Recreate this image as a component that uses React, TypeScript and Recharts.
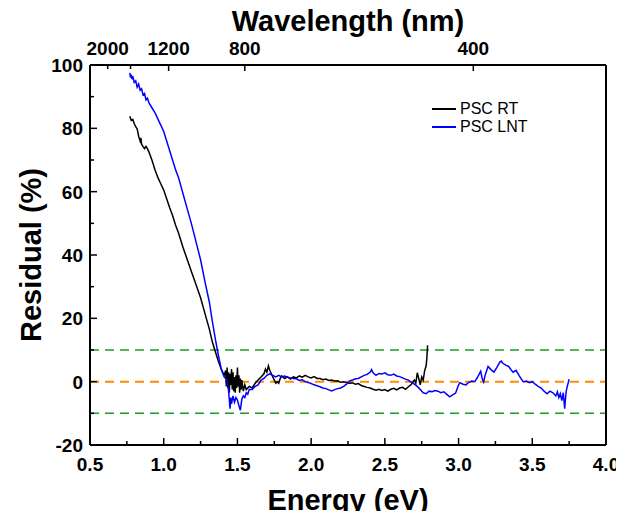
import React from "react";
import { LineChart, Line, XAxis, YAxis, ReferenceLine, Label } from "recharts";

const rtEnergy = [
  0.77, 0.78, 0.79, 0.8, 0.81, 0.82, 0.83, 0.84, 0.845, 0.85, 0.86, 0.87, 0.88, 0.89, 0.9, 0.92, 0.94, 0.96, 0.98, 1.0,
  1.02, 1.04, 1.06, 1.08, 1.1, 1.13, 1.16, 1.19, 1.22, 1.25, 1.28, 1.31, 1.33, 1.35, 1.37, 1.39, 1.41, 1.42, 1.425, 1.43,
  1.435, 1.44, 1.445, 1.45, 1.455, 1.46, 1.465, 1.47, 1.475, 1.48, 1.485, 1.49, 1.495, 1.5, 1.505, 1.51, 1.515, 1.52, 1.525, 1.53,
  1.54, 1.55, 1.56, 1.58, 1.6, 1.62, 1.64, 1.66, 1.68, 1.69, 1.7, 1.71, 1.72, 1.73, 1.74, 1.75, 1.76, 1.77, 1.78, 1.79,
  1.8, 1.82, 1.84, 1.86, 1.88, 1.9, 1.92, 1.94, 1.96, 1.98, 2.0, 2.02, 2.04, 2.06, 2.08, 2.1, 2.12, 2.14, 2.16, 2.18,
  2.2, 2.22, 2.24, 2.26, 2.28, 2.3, 2.32, 2.34, 2.36, 2.38, 2.4, 2.42, 2.44, 2.46, 2.48, 2.5, 2.52, 2.54, 2.56, 2.58,
  2.6, 2.62, 2.64, 2.66, 2.68, 2.7, 2.71, 2.72, 2.73, 2.74, 2.75, 2.76, 2.77, 2.78, 2.785, 2.79,
];
const rtResidual = [
  83.8, 82.5, 82.8, 81.5, 80.5, 79.8, 77.5, 76.0, 77.0, 75.0, 74.2, 73.6, 74.3, 73.5, 72.5, 70.0, 67.0, 64.5, 62.5, 60.5,
  57.8, 55.0, 52.5, 49.5, 47.0, 42.5, 38.5, 34.5, 30.5, 26.5, 21.5, 16.5, 12.5, 9.5, 6.5, 4.0, 2.0, 3.5, -1.5, 4.5,
  -2.0, 3.0, -3.5, 2.5, -1.0, 4.0, -2.5, 3.0, -3.0, 1.5, -3.5, 2.0, -2.0, 4.5, -1.5, 2.0, -3.5, 1.0, -2.5, 0.5,
  -3.0, -1.0, -2.5, -1.5, -2.0, -0.5, 0.5, 1.5, 2.5, 4.0, 3.0, 5.0, 3.5, 2.5, 1.5, 0.5, -0.5, 0.0, -0.5, 1.0,
  1.8, 1.0, 1.5, 0.8, 1.5, 1.2, 1.8, 1.4, 2.0, 1.5, 1.2, 1.6, 1.0, 1.0, 0.6, 0.8, 0.4, 0.5, 0.2, 0.3,
  -0.2, 0.0, -0.3, -0.5, -0.4, -0.8, -0.6, -1.2, -1.5, -1.8, -2.0, -2.4, -2.7, -2.4, -2.8, -2.5, -3.0, -2.4, -2.1, -2.6,
  -2.0, -1.8, -2.4, -1.6, -0.8, 0.5, -0.5, 2.8, 1.0, -1.0, 1.5, 0.5, 3.5, 5.0, 7.5, 11.5,
];

const lntEnergy = [
  0.77, 0.775, 0.78, 0.785, 0.79, 0.8, 0.81, 0.82, 0.83, 0.84, 0.85, 0.86, 0.87, 0.88, 0.89, 0.9, 0.92, 0.94, 0.96, 0.98,
  1.0, 1.02, 1.04, 1.06, 1.08, 1.1, 1.13, 1.16, 1.19, 1.22, 1.25, 1.28, 1.31, 1.33, 1.35, 1.37, 1.39, 1.41, 1.43, 1.44,
  1.45, 1.455, 1.46, 1.47, 1.48, 1.49, 1.5, 1.51, 1.52, 1.53, 1.54, 1.55, 1.56, 1.57, 1.58, 1.6, 1.62, 1.64, 1.66, 1.68,
  1.7, 1.72, 1.74, 1.76, 1.78, 1.8, 1.82, 1.84, 1.86, 1.88, 1.9, 1.92, 1.94, 1.96, 1.98, 2.0, 2.02, 2.04, 2.06, 2.08,
  2.1, 2.12, 2.14, 2.16, 2.18, 2.2, 2.22, 2.24, 2.26, 2.28, 2.3, 2.32, 2.34, 2.36, 2.38, 2.4, 2.41, 2.42, 2.44, 2.46,
  2.48, 2.5, 2.52, 2.54, 2.56, 2.58, 2.6, 2.62, 2.64, 2.66, 2.68, 2.7, 2.72, 2.74, 2.76, 2.78, 2.8, 2.82, 2.84, 2.86,
  2.88, 2.9, 2.92, 2.94, 2.96, 2.98, 3.0, 3.01, 3.03, 3.05, 3.07, 3.09, 3.11, 3.13, 3.15, 3.16, 3.17, 3.18, 3.2, 3.22,
  3.24, 3.26, 3.28, 3.29, 3.3, 3.32, 3.34, 3.36, 3.37, 3.39, 3.41, 3.43, 3.44, 3.46, 3.48, 3.5, 3.52, 3.54, 3.56, 3.58,
  3.6, 3.62, 3.64, 3.66, 3.67, 3.68, 3.69, 3.7, 3.71, 3.72, 3.725, 3.73, 3.74, 3.75,
];
const lntResidual = [
  97.5, 96.0, 97.0, 95.5, 96.5, 94.5, 95.0, 93.0, 94.0, 92.0, 92.5, 90.5, 91.0, 89.0, 89.5, 88.0, 86.5, 85.0, 83.0, 81.0,
  79.0, 76.0, 73.0, 70.0, 67.0, 64.5, 59.5, 54.5, 49.5, 44.0, 38.5, 31.5, 25.0, 19.0, 13.5, 8.5, 4.0, 1.5, 0.5, -3.0,
  -8.5, -5.0, -7.0, -4.5, -6.5, -5.0, -5.8, -7.5, -9.0, -5.5, -4.5, -5.0, -3.5, -4.0, -2.5, -2.5, -1.5, -1.0, 0.5, 1.0,
  2.0, 2.5, 2.0, 1.5, 2.0, 1.5, 1.8, 1.4, 1.2, 1.0, 0.9, 0.4, 0.6, 0.0, -0.3, -0.6, -1.0, -1.3, -1.6, -2.0,
  -2.2, -2.6, -2.9, -2.5, -2.2, -2.0, -1.5, -0.8, 0.2, 0.5, 0.9, 1.0, 1.5, 2.0, 2.3, 3.0, 3.8, 2.8, 2.0, 2.6,
  2.4, 2.8, 2.2, 2.0, 2.4, 1.8, 1.6, 1.2, 0.8, 0.5, -0.2, -0.8, -1.5, -2.5, -3.5, -3.8, -3.0, -3.2, -2.8, -3.0,
  -3.5, -3.2, -4.0, -4.8, -4.2, -3.6, -1.0, -0.3, -0.8, -1.0, -0.2, 0.2, 0.0, 1.5, 3.3, 1.0, -0.1, 2.0, 4.8, 3.8,
  3.0, 4.5, 6.2, 6.5, 5.8, 5.2, 4.8, 3.5, 3.0, 3.6, 2.0, 0.5, -0.1, 0.2, -0.3, 0.0, -0.8, -1.5, -2.0, -3.0,
  -3.8, -3.0, -3.5, -4.5, -3.2, -5.0, -3.8, -6.0, -3.5, -8.5, -5.5, -3.0, -1.0, 0.8,
];

const energyTicks = [0.5, 0.75, 1.0, 1.25, 1.5, 1.75, 2.0, 2.25, 2.5, 2.75, 3.0, 3.25, 3.5, 3.75, 4.0];
const residualTicks = [-20, -10, 0, 10, 20, 30, 40, 50, 60, 70, 80, 90, 100];
const wavelengthTicks = [2000, 1600, 1200, 800, 400];
const wavelengthLabels = ["2000", "", "1200", "800", "400"];
const guideLevels = [10, 0, -10];
const seriesNames = ["PSC RT", "PSC LNT"];
const seriesColors = ["#000000", "#0000ff"];

const rtData = rtEnergy.map((e, i) => ({ e, r: rtResidual[i] }));
const lntData = lntEnergy.map((e, i) => ({ e, r: lntResidual[i] }));
const wlTickEnergies = wavelengthTicks.map((w) => 1240 / w);

const FONT = "'Liberation Sans', Arial, sans-serif";

const BottomTick = (props: any) => {
  const { x, y, payload } = props;
  const v = payload.value;
  const major = Math.abs(v * 2 - Math.round(v * 2)) < 1e-6;
  return (
    <g>
      <line x1={x} y1={y} x2={x} y2={y - (major ? 7 : 4)} stroke="#000" strokeWidth={1.5} />
      {major && (
        <text x={x} y={y + 26} textAnchor="middle" fontFamily={FONT} fontWeight="bold" fontSize={19} fill="#000">
          {v.toFixed(1)}
        </text>
      )}
    </g>
  );
};

const LeftTick = (props: any) => {
  const { x, y, payload } = props;
  const v = payload.value;
  const major = v % 20 === 0;
  return (
    <g>
      <line x1={x} y1={y} x2={x + (major ? 7 : 4)} y2={y} stroke="#000" strokeWidth={1.5} />
      {major && (
        <text x={x - 7} y={y + 7} textAnchor="end" fontFamily={FONT} fontWeight="bold" fontSize={19} fill="#000">
          {v}
        </text>
      )}
    </g>
  );
};

const TopTick = (props: any) => {
  const { x, y, payload } = props;
  let idx = 0;
  wlTickEnergies.forEach((e, i) => {
    if (Math.abs(e - payload.value) < Math.abs(wlTickEnergies[idx] - payload.value)) idx = i;
  });
  const label = wavelengthLabels[idx];
  const len = idx < 2 ? 4 : 6;
  return (
    <g>
      <line x1={x} y1={y} x2={x} y2={y + len} stroke="#000" strokeWidth={1.5} />
      {label && (
        <text x={x} y={y - 10} textAnchor="middle" fontFamily={FONT} fontWeight="bold" fontSize={19} fill="#000">
          {label}
        </text>
      )}
    </g>
  );
};

export default function App() {
  return (
    <div style={{ margin: -8, position: "relative", width: 624, height: 519 }}>
      <LineChart width={624} height={519} margin={{ top: 18, right: 18, bottom: 18, left: 28 }}>
        <XAxis
          xAxisId={0}
          dataKey="e"
          type="number"
          domain={[0.5, 4]}
          ticks={energyTicks}
          interval={0}
          height={56}
          tickSize={0}
          tickMargin={0}
          tickLine={false}
          tick={BottomTick}
          axisLine={{ stroke: "#000", strokeWidth: 2 }}
          allowDataOverflow
        >
          <Label
            content={(p: any) => {
              const vb = p.viewBox;
              return (
                <text x={vb.x + vb.width / 2} y={vb.y + 65} textAnchor="middle" fontFamily={FONT} fontWeight="bold" fontSize={29} fill="#000">
                  Energy (eV)
                </text>
              );
            }}
          />
        </XAxis>
        <XAxis
          xAxisId="top"
          dataKey="e"
          orientation="top"
          type="number"
          domain={[0.5, 4]}
          ticks={wlTickEnergies}
          interval={0}
          height={47}
          tickSize={0}
          tickMargin={0}
          tickLine={false}
          tick={TopTick}
          axisLine={{ stroke: "#000", strokeWidth: 2 }}
          allowDataOverflow
        >
          <Label
            content={(p: any) => {
              const vb = p.viewBox;
              return (
                <text x={vb.x + vb.width / 2} y={vb.y + 13} textAnchor="middle" fontFamily={FONT} fontWeight="bold" fontSize={29} fill="#000">
                  Wavelength (nm)
                </text>
              );
            }}
          />
        </XAxis>
        <YAxis
          type="number"
          domain={[-20, 100]}
          ticks={residualTicks}
          interval={0}
          width={62}
          tickSize={0}
          tickMargin={0}
          tickLine={false}
          tick={LeftTick}
          axisLine={{ stroke: "#000", strokeWidth: 2 }}
          allowDataOverflow
        >
          <Label
            content={(p: any) => {
              const vb = p.viewBox;
              const cx = vb.x + 13;
              const cy = vb.y + vb.height / 2;
              return (
                <text x={cx} y={cy} transform={`rotate(-90 ${cx} ${cy})`} textAnchor="middle" fontFamily={FONT} fontWeight="bold" fontSize={29} fill="#000">
                  Residual (%)
                </text>
              );
            }}
          />
        </YAxis>
        {guideLevels.map((lv) => (
          <ReferenceLine
            key={lv}
            y={lv}
            stroke={lv === 0 ? "#ff8c00" : "#1f9a1f"}
            strokeWidth={lv === 0 ? 2 : 1.5}
            strokeDasharray="9 6"
          />
        ))}
        <ReferenceLine x={4} stroke="#000" strokeWidth={2} />
        <Line data={rtData} dataKey="r" name={seriesNames[0]} stroke={seriesColors[0]} strokeWidth={1.5} dot={false} isAnimationActive={false} />
        <Line xAxisId="top" data={lntData} dataKey="r" name={seriesNames[1]} stroke={seriesColors[1]} strokeWidth={1.5} dot={false} isAnimationActive={false} />
      </LineChart>
      <div style={{ position: "absolute", left: 432, top: 100, fontFamily: FONT, fontSize: 16, color: "#000" }}>
        {seriesNames.map((n, i) => (
          <div key={n} style={{ display: "flex", alignItems: "center", height: 18 }}>
            <svg width={24} height={4} style={{ display: "block" }}>
              <line x1={0} y1={2} x2={24} y2={2} stroke={seriesColors[i]} strokeWidth={2} />
            </svg>
            <span style={{ marginLeft: 4, lineHeight: "18px" }}>{n}</span>
          </div>
        ))}
      </div>
    </div>
  );
}
